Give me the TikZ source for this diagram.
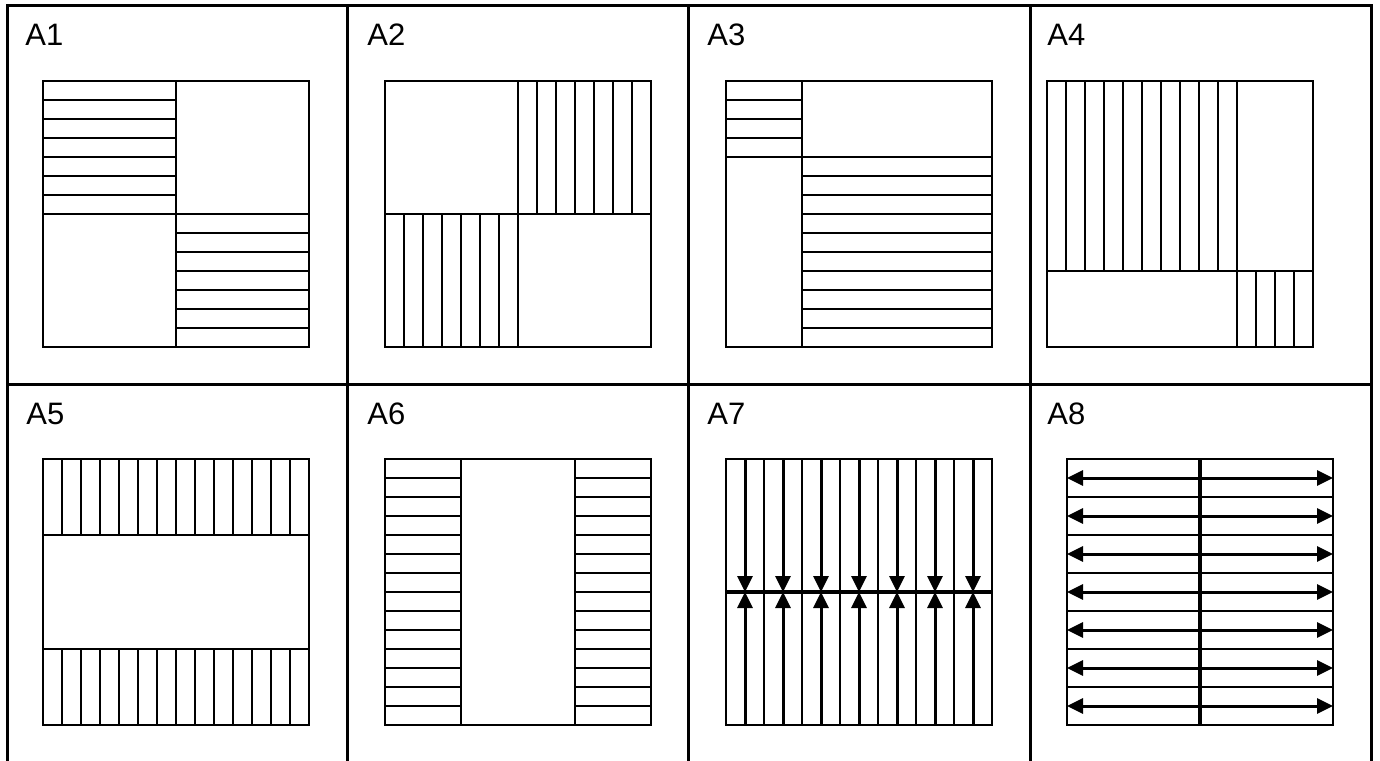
\documentclass[tikz,border=0pt]{standalone}
\usepackage{fontspec}
\setmainfont{Liberation Sans}
\usetikzlibrary{arrows.meta}

\begin{document}
\begin{tikzpicture}[x=0.5pt,y=-0.5pt,cellline/.style={draw=black,line width=1.5pt},boxline/.style={draw=black,line width=1.3pt},stripline/.style={draw=black,line width=1pt},seamline/.style={draw=black,line width=1.6pt},flowarrow/.style={-{Triangle[length=8pt,width=7.5pt]},line width=1.5pt},panellabel/.style={anchor=base west,inner sep=0pt,font=\fontsize{15.5}{18}\selectfont}]
\useasboundingbox[fill=white] (0,0) rectangle (1380,760);
\draw[cellline] (7,5) rectangle (1371,766);
\draw[cellline] (7,384) -- (1371,384);
\draw[cellline] (347,5) -- (347,766);
\draw[cellline] (688,5) -- (688,766);
\draw[cellline] (1030,5) -- (1030,766);
\node[panellabel] (labA1) at (25,45){A1};
\node[panellabel] (labA2) at (367,45){A2};
\node[panellabel] (labA3) at (707,45){A3};
\node[panellabel] (labA4) at (1047,45){A4};
\node[panellabel] (labA5) at (26,424){A5};
\node[panellabel] (labA6) at (367,424){A6};
\node[panellabel] (labA7) at (707,424){A7};
\node[panellabel] (labA8) at (1047,424){A8};
% A1
\begin{scope}[shift={(43,81)},x=9.5pt,y=-9.5pt]
\foreach \k in {1,...,6}{\draw[stripline] (0,\k) -- (7,\k);\draw[stripline] (7,\k+7) -- (14,\k+7);}
\draw[boxline] (7,0) -- (7,14) (0,7) -- (14,7);
\draw[boxline] (0,0) rectangle (14,14);
\end{scope}
% A2
\begin{scope}[shift={(385,81)},x=9.5pt,y=-9.5pt]
\foreach \k in {1,...,6}{\draw[stripline] (\k+7,0) -- (\k+7,7);\draw[stripline] (\k,7) -- (\k,14);}
\draw[boxline] (7,0) -- (7,14) (0,7) -- (14,7);
\draw[boxline] (0,0) rectangle (14,14);
\end{scope}
% A3
\begin{scope}[shift={(726,81)},x=9.5pt,y=-9.5pt]
\foreach \k in {1,...,3}{\draw[stripline] (0,\k) -- (4,\k);}
\foreach \k in {5,...,13}{\draw[stripline] (4,\k) -- (14,\k);}
\draw[boxline] (4,0) -- (4,14) (0,4) -- (14,4);
\draw[boxline] (0,0) rectangle (14,14);
\end{scope}
% A4
\begin{scope}[shift={(1047,81)},x=9.5pt,y=-9.5pt]
\foreach \k in {1,...,9}{\draw[stripline] (\k,0) -- (\k,10);}
\foreach \k in {11,...,13}{\draw[stripline] (\k,10) -- (\k,14);}
\draw[boxline] (10,0) -- (10,14) (0,10) -- (14,10);
\draw[boxline] (0,0) rectangle (14,14);
\end{scope}
% A5
\begin{scope}[shift={(43,459)},x=9.5pt,y=-9.5pt]
\foreach \k in {1,...,13}{\draw[stripline] (\k,0) -- (\k,4);\draw[stripline] (\k,10) -- (\k,14);}
\draw[boxline] (0,4) -- (14,4) (0,10) -- (14,10);
\draw[boxline] (0,0) rectangle (14,14);
\end{scope}
% A6
\begin{scope}[shift={(385,459)},x=9.5pt,y=-9.5pt]
\foreach \k in {1,...,13}{\draw[stripline] (0,\k) -- (4,\k);\draw[stripline] (10,\k) -- (14,\k);}
\draw[boxline] (4,0) -- (4,14) (10,0) -- (10,14);
\draw[boxline] (0,0) rectangle (14,14);
\end{scope}
% A7
\begin{scope}[shift={(726,459)},x=9.5pt,y=-9.5pt]
\foreach \k in {2,4,...,12}{\draw[stripline] (\k,0) -- (\k,14);}
\draw[seamline] (0,7) -- (14,7);
\foreach \k in {1,3,...,13}{\draw[flowarrow] (\k,0) -- (\k,7);\draw[flowarrow] (\k,14) -- (\k,7);}
\draw[boxline] (0,0) rectangle (14,14);
\end{scope}
% A8
\begin{scope}[shift={(1067,459)},x=9.5pt,y=-9.5pt]
\foreach \k in {2,4,...,12}{\draw[stripline] (0,\k) -- (14,\k);}
\draw[seamline] (7,0) -- (7,14);
\foreach \k in {1,3,...,13}{\draw[flowarrow] (7,\k) -- (0,\k);\draw[flowarrow] (7,\k) -- (14,\k);}
\draw[boxline] (0,0) rectangle (14,14);
\end{scope}
\end{tikzpicture}
\end{document}
